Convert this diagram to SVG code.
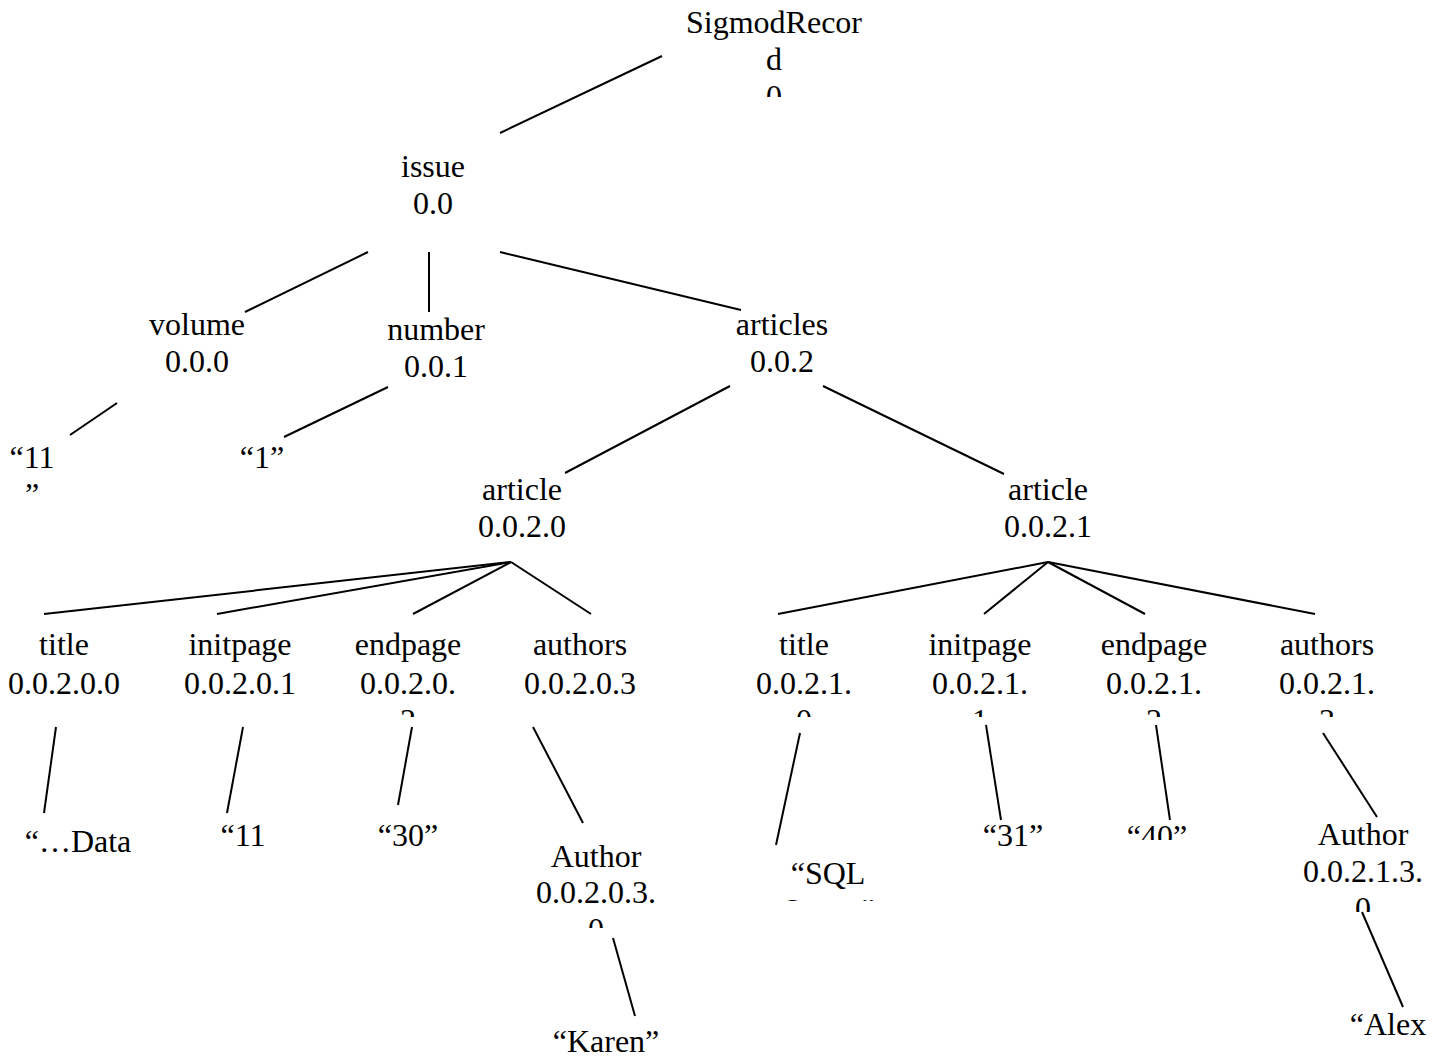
<svg xmlns="http://www.w3.org/2000/svg" width="1440" height="1058" viewBox="0 0 1440 1058">
<style>
text{font-family:"Liberation Serif","Times New Roman",serif;font-size:32px;fill:#000;text-anchor:middle}
#connectors line{stroke:#000;stroke-width:2;fill:none}
</style>
<defs>
<clipPath id="c-root"><rect x="600" y="0" width="340" height="97"/></clipPath>
<clipPath id="c-row3"><rect x="0" y="600" width="1440" height="117"/></clipPath>
<clipPath id="c-author0"><rect x="500" y="800" width="200" height="128"/></clipPath>
<clipPath id="c-sql"><rect x="740" y="840" width="180" height="61"/></clipPath>
<clipPath id="c-40"><rect x="1100" y="800" width="120" height="40"/></clipPath>
<clipPath id="c-author1"><rect x="1280" y="800" width="160" height="112"/></clipPath>
</defs>
<rect width="1440" height="1058" fill="#fff"/>
<g id="connectors">
<line x1="662" y1="56" x2="500" y2="133"/>
<line x1="368" y1="252" x2="245" y2="312"/>
<line x1="429" y1="252" x2="429" y2="312"/>
<line x1="500" y1="252" x2="741" y2="310"/>
<line x1="117" y1="403" x2="70" y2="435"/>
<line x1="388" y1="387" x2="284" y2="437"/>
<line x1="730" y1="386" x2="565" y2="473"/>
<line x1="823" y1="386" x2="1004" y2="474"/>
<line x1="511" y1="562" x2="44" y2="614"/>
<line x1="511" y1="562" x2="217" y2="614"/>
<line x1="511" y1="562" x2="413" y2="614"/>
<line x1="511" y1="562" x2="591" y2="614"/>
<line x1="1048" y1="562" x2="778" y2="614"/>
<line x1="1048" y1="562" x2="984" y2="614"/>
<line x1="1048" y1="562" x2="1145" y2="614"/>
<line x1="1048" y1="562" x2="1315" y2="614"/>
<line x1="56" y1="727" x2="44" y2="813"/>
<line x1="243" y1="727" x2="227" y2="813"/>
<line x1="412" y1="727" x2="398" y2="805"/>
<line x1="533" y1="727" x2="583" y2="823"/>
<line x1="800" y1="733" x2="776" y2="845"/>
<line x1="986" y1="725" x2="1001" y2="820"/>
<line x1="1156" y1="725" x2="1170" y2="820"/>
<line x1="1323" y1="733" x2="1377" y2="817"/>
<line x1="613" y1="938" x2="635" y2="1016"/>
<line x1="1362" y1="912" x2="1403" y2="1007"/>
</g>
<g id="n-root" clip-path="url(#c-root)"><text x="774" y="33">SigmodRecor</text><text x="774" y="70">d</text><text x="774" y="107">0</text></g>
<g id="n-issue"><text x="433" y="177">issue</text><text x="433" y="214">0.0</text></g>
<g id="n-volume"><text x="197" y="335">volume</text><text x="197" y="372">0.0.0</text></g>
<g id="n-number"><text x="436" y="340">number</text><text x="436" y="377">0.0.1</text></g>
<g id="n-articles"><text x="782" y="335">articles</text><text x="782" y="372">0.0.2</text></g>
<g id="n-v11"><text x="32" y="468">“11</text><text x="32" y="505">”</text></g>
<g id="n-n1"><text x="262" y="468">“1”</text></g>
<g id="n-article0"><text x="522" y="500">article</text><text x="522" y="537">0.0.2.0</text></g>
<g id="n-article1"><text x="1048" y="500">article</text><text x="1048" y="537">0.0.2.1</text></g>
<g id="n-title0"><text x="64" y="655">title</text><text x="64" y="694">0.0.2.0.0</text></g>
<g id="n-initpage0"><text x="240" y="655">initpage</text><text x="240" y="694">0.0.2.0.1</text></g>
<g id="n-endpage0" clip-path="url(#c-row3)"><text x="408" y="655">endpage</text><text x="408" y="694">0.0.2.0.</text><text x="408" y="731">2</text></g>
<g id="n-authors0"><text x="580" y="655">authors</text><text x="580" y="694">0.0.2.0.3</text></g>
<g id="n-title1" clip-path="url(#c-row3)"><text x="804" y="655">title</text><text x="804" y="694">0.0.2.1.</text><text x="804" y="731">0</text></g>
<g id="n-initpage1" clip-path="url(#c-row3)"><text x="980" y="655">initpage</text><text x="980" y="694">0.0.2.1.</text><text x="980" y="731">1</text></g>
<g id="n-endpage1" clip-path="url(#c-row3)"><text x="1154" y="655">endpage</text><text x="1154" y="694">0.0.2.1.</text><text x="1154" y="731">2</text></g>
<g id="n-authors1" clip-path="url(#c-row3)"><text x="1327" y="655">authors</text><text x="1327" y="694">0.0.2.1.</text><text x="1327" y="731">3</text></g>
<g id="n-data"><text x="78" y="852">“…Data</text></g>
<g id="n-i11"><text x="243" y="846">“11</text></g>
<g id="n-e30"><text x="408" y="846">“30”</text></g>
<g id="n-author0" clip-path="url(#c-author0)"><text x="596" y="867">Author</text><text x="596" y="903">0.0.2.0.3.</text><text x="596" y="940">0</text></g>
<g id="n-sql" clip-path="url(#c-sql)"><text x="828" y="884">“SQL</text><text x="828" y="921">Query”</text></g>
<g id="n-i31"><text x="1013" y="846">“31”</text></g>
<g id="n-e40" clip-path="url(#c-40)"><text x="1157" y="847">“40”</text></g>
<g id="n-author1" clip-path="url(#c-author1)"><text x="1363" y="845">Author</text><text x="1363" y="882">0.0.2.1.3.</text><text x="1363" y="919">0</text></g>
<g id="n-karen"><text x="606" y="1052">“Karen”</text></g>
<g id="n-alex"><text x="1388" y="1035">“Alex</text></g>
</svg>
